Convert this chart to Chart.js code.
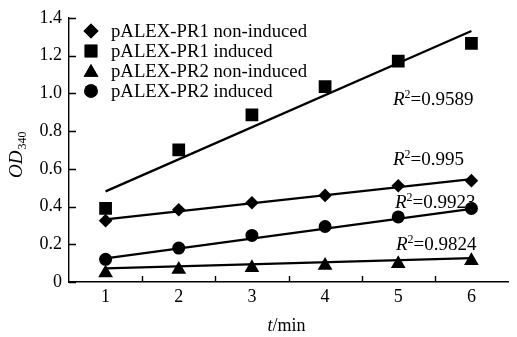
<!DOCTYPE html>
<html><head><meta charset="utf-8">
<script src="https://cdn.jsdelivr.net/npm/chart.js@4.4.1/dist/chart.umd.min.js"></script>
<style>html,body{margin:0;padding:0;background:#fff}canvas{display:block}</style>
</head><body>
<canvas id="c" width="517" height="337"></canvas>
<script>
// ---- data ----
const categories = ['1', '2', '3', '4', '5', '6'];
const seriesNames = ['pALEX-PR1 non-induced', 'pALEX-PR1 induced', 'pALEX-PR2 non-induced', 'pALEX-PR2 induced'];
const pr1NonInduced = [0.325, 0.383, 0.42, 0.459, 0.51, 0.537];
const pr1Induced    = [0.39, 0.70, 0.885, 1.035, 1.17, 1.265];
const pr2NonInduced = [0.048, 0.066, 0.075, 0.088, 0.097, 0.112];
const pr2Induced    = [0.12, 0.18, 0.247, 0.294, 0.345, 0.39];
// trend line end values (at t = 1 and t = 6)
const trendPr1NonInduced = [0.332, 0.545];
const trendPr1Induced    = [0.48, 1.33];
const trendPr2NonInduced = [0.072, 0.127];
const trendPr2Induced    = [0.125, 0.388];
const r2Labels = ['0.995', '0.9589', '0.9824', '0.9923'];
const yTickValues = [0, 0.2, 0.4, 0.6, 0.8, 1.0, 1.2, 1.4];

const SERIF = '"Liberation Serif", "Times New Roman", serif';
const styles = ['rectRot', 'rect', 'triangle', 'circle'];
const radii = [6.8, 9, 8.5, 6.5];
const legendRadii = [7.5, 9, 8.5, 6.8];

function trendData(pair) {
  return categories.map((c, i) => i === 0 ? pair[0] : (i === categories.length - 1 ? pair[1] : null));
}

const markerSets = [pr1NonInduced, pr1Induced, pr2NonInduced, pr2Induced].map((d, i) => ({
  label: seriesNames[i], data: d, showLine: false, pointStyle: styles[i], pointRadius: radii[i],
  pointBackgroundColor: '#000', pointBorderColor: '#000', pointBorderWidth: 0, borderColor: '#000'
}));
const trendSets = [trendPr1NonInduced, trendPr1Induced, trendPr2NonInduced, trendPr2Induced].map((p, i) => ({
  label: 'trend ' + i, data: trendData(p), spanGaps: true, pointRadius: 0, borderColor: '#000',
  borderWidth: 2.3, fill: false, tension: 0
}));

// R² label positions (left x, baseline y) in pixels
const r2Pos = [[393, 165], [393, 105], [396, 250], [395, 208]];

const overlay = {
  id: 'overlay',
  afterDraw(chart) {
    const ctx = chart.ctx;
    const xa = chart.scales.x, ya = chart.scales.y;
    ctx.save();
    // inward tick marks
    ctx.strokeStyle = '#000'; ctx.lineWidth = 1.4;
    ctx.beginPath();
    ya.ticks.forEach(t => {
      const py = Math.round(ya.getPixelForValue(t.value)) + 0.5;
      ctx.moveTo(ya.right, py); ctx.lineTo(ya.right + 7, py);
    });
    for (let i = 0; i < categories.length - 1; i++) {
      const px = Math.round((xa.getPixelForValue(i) + xa.getPixelForValue(i + 1)) / 2) + 0.5;
      ctx.moveTo(px, xa.top); ctx.lineTo(px, xa.top - 6);
    }
    ctx.stroke();

    // legend
    ctx.fillStyle = '#000';
    seriesNames.forEach((name, i) => {
      const y = 31 + i * 20;
      Chart.helpers.drawPoint(ctx, { pointStyle: styles[i], radius: legendRadii[i], rotation: 0, borderWidth: 0 }, 91, y + (i === 2 ? 1.5 : 0));
      ctx.fill();
      ctx.save();
      ctx.translate(111, y + 1); ctx.scale(1.04, 1);
      ctx.font = '18px ' + SERIF;
      ctx.textBaseline = 'middle'; ctx.textAlign = 'left';
      ctx.fillText(name, 0, 0);
      ctx.restore();
    });

    // R² labels
    ctx.textBaseline = 'alphabetic';
    r2Labels.forEach((v, i) => {
      let [x, y] = r2Pos[i];
      ctx.font = 'italic 19px ' + SERIF; ctx.fillText('R', x, y); x += ctx.measureText('R').width;
      ctx.font = '12px ' + SERIF; ctx.fillText('2', x, y - 7); x += ctx.measureText('2').width;
      ctx.font = '19px ' + SERIF; ctx.fillText('=' + v, x, y);
    });

    // y title OD340
    ctx.save();
    ctx.translate(22, 178); ctx.rotate(-Math.PI / 2);
    ctx.font = 'italic 19px ' + SERIF; ctx.fillText('OD', 0, 0);
    const w = ctx.measureText('OD').width;
    ctx.font = '12px ' + SERIF; ctx.fillText('340', w + 1, 4);
    ctx.restore();

    // x title t/min
    ctx.font = 'italic 18px ' + SERIF;
    const tw = ctx.measureText('t').width;
    ctx.font = '18px ' + SERIF;
    const mw = ctx.measureText('/min').width;
    const cx = (xa.left + xa.right) / 2 - 2;
    const sx = cx - (tw + mw) / 2;
    ctx.font = 'italic 18px ' + SERIF; ctx.fillText('t', sx, 331);
    ctx.font = '18px ' + SERIF; ctx.fillText('/min', sx + tw, 331);
    ctx.restore();
  }
};

new Chart(document.getElementById('c'), {
  type: 'line',
  data: { labels: categories, datasets: [...trendSets, ...markerSets] },
  options: {
    responsive: false, animation: false, devicePixelRatio: 1,
    layout: { padding: { top: 15, right: 0, left: 0, bottom: 0 } },
    plugins: { legend: { display: false }, tooltip: { enabled: false } },
    scales: {
      x: {
        type: 'category', offset: true,
        grid: { display: false, drawTicks: false },
        border: { display: true, color: '#000', width: 1.4 },
        ticks: { color: '#000', font: { family: SERIF, size: 18 }, padding: 4, maxRotation: 0 },
        afterFit(s) { s.height = 55; }
      },
      y: {
        min: 0, max: 1.4,
        afterBuildTicks(s) { s.ticks = yTickValues.map(v => ({ value: v })); },
        grid: { display: false, drawTicks: false },
        border: { display: true, color: '#000', width: 1.4 },
        ticks: { color: '#000', font: { family: SERIF, size: 18 }, padding: 7,
          callback: v => v === 0 ? '0' : Number(v).toFixed(1) },
        afterFit(s) { s.width = 69; }
      }
    }
  },
  plugins: [overlay]
});
</script>
</body></html>
